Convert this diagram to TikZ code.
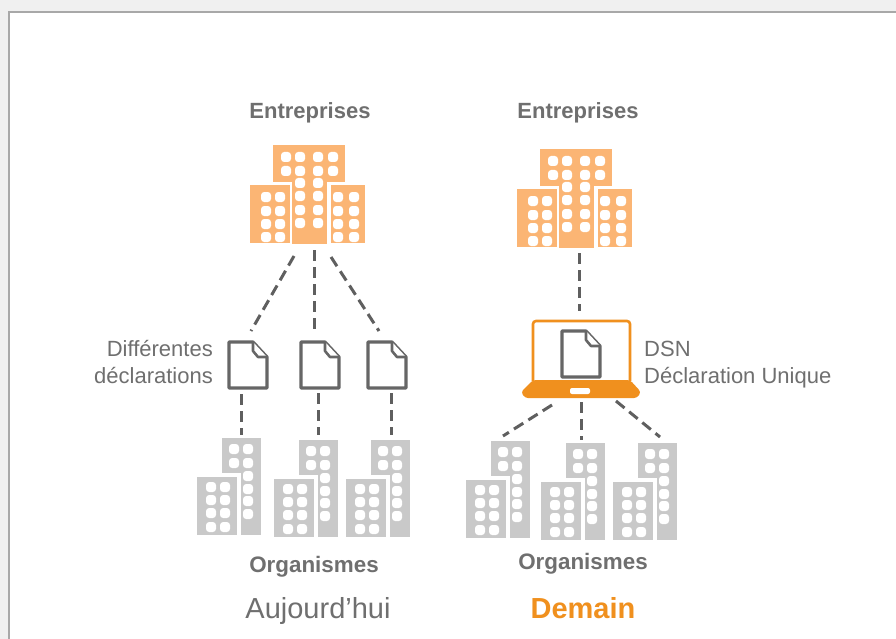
\documentclass[tikz,border=0pt]{standalone}
\usepackage{fontspec}
\setmainfont{Liberation Sans}
\definecolor{bldorange}{HTML}{FBB574}
\definecolor{bldgrey}{HTML}{C9C9C9}
\definecolor{lapor}{HTML}{F0901E}
\definecolor{docgrey}{HTML}{666666}
\definecolor{dashgrey}{HTML}{5F5F5F}
\definecolor{txtgrey}{HTML}{6F6F6F}
\definecolor{pagegrey}{HTML}{F0F0F0}
\definecolor{framegrey}{HTML}{A8A8A8}
\tikzset{
 x=1pt,y=-1pt,
 link/.style={draw=dashgrey,line width=3pt,dash pattern=on 11pt off 6pt},
 titlelabel/.style={font=\fontsize{22}{24}\selectfont\bfseries,text=txtgrey,inner sep=0pt},
 orglabel/.style={font=\fontsize{22.4}{24}\selectfont\bfseries,text=txtgrey,inner sep=0pt},
 notelabel/.style={font=\fontsize{22}{24}\selectfont,text=txtgrey,inner sep=0pt},
 docshape/.style={draw=docgrey,line width=3.2pt,fill=white,line join=round},
}
\newcommand{\winat}[2]{\fill[white,rounded corners=3.2pt] (#1-5,#2-5) rectangle (#1+5,#2+5);}
\newcommand{\orangeblock}[2]{%
 \begin{scope}[shift={(#1,#2)}]
  \fill[bldorange] (0,40) rectangle (40,98);
  \fill[bldorange] (23,0) rectangle (95,37);
  \fill[bldorange] (42,37) rectangle (77,99);
  \fill[bldorange] (81,40) rectangle (115,98);
  \foreach \cx in {16,30}{\foreach \cy in {52,66,79,92}{\winat{\cx}{\cy}}}
  \foreach \cx in {88,104}{\foreach \cy in {52,66,79,92}{\winat{\cx}{\cy}}}
  \foreach \cx in {36,50,68,83}{\foreach \cy in {12,26}{\winat{\cx}{\cy}}}
  \foreach \cx in {50,68}{\foreach \cy in {38,51,65,78,92}{\ifnum\cy=92 \else\winat{\cx}{\cy}\fi}}
 \end{scope}}
\newcommand{\greyblock}[2]{%
 \begin{scope}[shift={(#1,#2)}]
  \fill[bldgrey] (0,39) rectangle (40,97);
  \fill[bldgrey] (25,0) rectangle (64,35);
  \fill[bldgrey] (44,35) rectangle (64,97);
  \foreach \cx in {14,28}{\foreach \cy in {49,62,75,89}{\winat{\cx}{\cy}}}
  \foreach \cx in {37,51}{\foreach \cy in {11,25}{\winat{\cx}{\cy}}}
  \foreach \cy in {38,51,63,76}{\winat{51}{\cy}}
 \end{scope}}
\newcommand{\docicon}[2]{%
 \begin{scope}[shift={(#1,#2)}]
  \draw[docshape] (0,0) -- (24,0) -- (38,15) -- (38,46) -- (0,46) -- cycle;
  \draw[docshape,line width=2.6pt] (24,0) -- (24,9) -- (29,15) -- (38,15);
 \end{scope}}
\begin{document}
\begin{tikzpicture}
\useasboundingbox (0,0) rectangle (896,639);
\fill[pagegrey] (0,0) rectangle (896,639);
\fill[white] (9,12) rectangle (896,639);
\draw[framegrey,line width=1.6pt] (9,639) -- (9,12) -- (896,12);

% buildings
\orangeblock{250}{145}
\orangeblock{517}{149}
\greyblock{197}{438}
\greyblock{274}{440}
\greyblock{346}{440}
\greyblock{466}{441}
\greyblock{541}{443}
\greyblock{613}{443}

% documents
\docicon{229}{342}
\docicon{301}{342}
\docicon{368}{342}

% laptop
\draw[lapor,line width=2.6pt,fill=white,rounded corners=3pt] (533,381) -- (533,321) -- (630,321) -- (630,381);
\fill[lapor,rounded corners=3pt] (533,380) -- (630,380) -- (641,392) -- (637,398) -- (525,398) -- (521,392) -- cycle;
\fill[white,rounded corners=2pt] (570,388) rectangle (590,394);
\docicon{562}{331}

% anchors for connectors
\coordinate (a1) at (294,256); \coordinate (d1) at (251,331);
\coordinate (a2) at (314,250); \coordinate (d2) at (314,333);
\coordinate (a3) at (331,257); \coordinate (d3) at (379,331);
\coordinate (b1) at (241,394); \coordinate (o1) at (241,435);
\coordinate (b2) at (318,393); \coordinate (o2) at (318,435);
\coordinate (b3) at (391,393); \coordinate (o3) at (391,435);
\coordinate (e) at (579,253);  \coordinate (lt) at (579,311);
\coordinate (l1) at (552,405); \coordinate (p1) at (503,436);
\coordinate (l2) at (581,402); \coordinate (p2) at (581,440);
\coordinate (l3) at (616,401); \coordinate (p3) at (660,437);
\draw[link] (a1) -- (d1);
\draw[link] (a2) -- (d2);
\draw[link] (a3) -- (d3);
\draw[link] (b1) -- (o1);
\draw[link] (b2) -- (o2);
\draw[link] (b3) -- (o3);
\draw[link] (e) -- (lt);
\draw[link] (l1) -- (p1);
\draw[link] (l2) -- (p2);
\draw[link] (l3) -- (p3);

% labels
\node[titlelabel] (ent1) at (310,113) {Entreprises};
\node[titlelabel] (ent2) at (578,113) {Entreprises};
\node[orglabel] (org1) at (314,567) {Organismes};
\node[orglabel] (org2) at (583,564) {Organismes};
\node[notelabel,anchor=base east] (dif1) at (213,356) {Différentes};
\node[notelabel,anchor=base east] (dif2) at (213,383) {déclarations};
\node[notelabel,anchor=base west] (dsn1) at (644,356) {DSN};
\node[notelabel,anchor=base west] (dsn2) at (644,383) {Déclaration Unique};
\node[inner sep=0pt,font=\fontsize{29}{32}\selectfont,text=txtgrey] (auj) at (318,611) {Aujourd'hui};
\node[inner sep=0pt,font=\fontsize{29}{32}\selectfont\bfseries,text=lapor] (dem) at (583,608) {Demain};
\end{tikzpicture}
\end{document}
